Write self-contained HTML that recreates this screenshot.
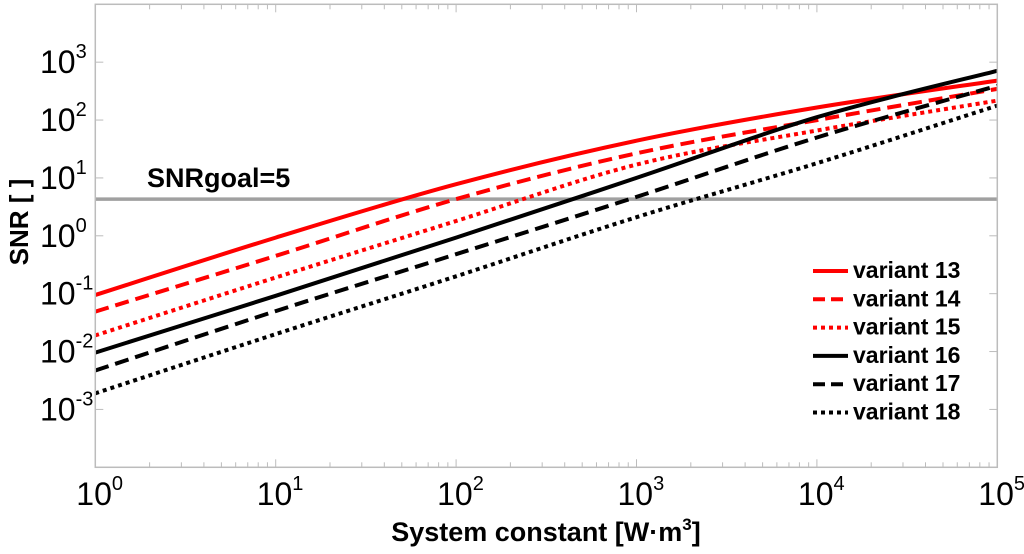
<!DOCTYPE html>
<html><head><meta charset="utf-8"><style>
body{margin:0;background:#fff;}
svg{display:block;font-family:"Liberation Sans",Arial,sans-serif;}
</style></head><body>
<svg id="chart" width="1024" height="554" viewBox="0 0 1024 554" xmlns="http://www.w3.org/2000/svg">
<rect width="1024" height="554" fill="#fff"/>
<g id="ticks"></g>
<g id="series"></g>
<g id="labels"></g>
<rect x="95.3" y="4.3" width="902" height="463" fill="none" stroke="#bcbcbc" stroke-width="1.5"/>
<text x="147" y="187" font-size="27" font-weight="bold">SNRgoal=5</text>
<text x="546" y="541" font-size="27" font-weight="bold" text-anchor="middle">System constant [W·m<tspan dy="-11" font-size="17">3</tspan><tspan dy="11">]</tspan></text>
<text transform="translate(28,222) rotate(-90)" font-size="26" font-weight="bold" text-anchor="middle">SNR [ ]</text>
<g id="legend"></g>
</svg>
<script>
const xDecades = [0, 1, 2, 3, 4, 5];
const yDecades = [-3, -2, -1, 0, 1, 2, 3];
const goalValue = 4.3;
const seriesNames = ["variant 13","variant 14","variant 15","variant 16","variant 17","variant 18"];
const v13 = [0.095, 0.93, 7.8, 44, 165, 480];
const v14 = [0.049, 0.45, 4.3, 26.6, 100, 345];
const v15 = [0.019, 0.19, 1.8, 17, 66, 217];
const v16 = [0.0096, 0.092, 0.93, 10, 112, 710];
const v17 = [0.0047, 0.05, 0.48, 4.7, 50, 390];
const v18 = [0.0019, 0.02, 0.2, 2.1, 18, 178];
const seriesValues = [v13, v14, v15, v16, v17, v18];

const NS = "http://www.w3.org/2000/svg";
const L = 95.3, R = 997.3, T = 4.3, B = 467.3;
function xs(v){ return L + Math.log10(v) / 5 * (R - L); }
function ys(v){ return B - (Math.log10(v) + 4) / 8 * (B - T); }
function mk(tag, attrs, parent){ const e = document.createElementNS(NS, tag); for (const k in attrs) e.setAttribute(k, attrs[k]); parent.appendChild(e); return e; }

const tg = document.getElementById('ticks');
for (let d = 0; d < 5; d++) for (let m = 1; m <= 10; m++) {
  const v = m * Math.pow(10, d); if (m === 10 && d < 4) continue;
  const x = xs(v); const len = (m === 1 || m === 10) ? 8 : 5;
  const t1 = mk('line', {x1:x, x2:x, y1:B, y2:B-len, stroke:'#bcbcbc', 'stroke-width':1}, tg);
  
  
  const t2 = mk('line', {x1:x, x2:x, y1:T, y2:T+len, stroke:'#bcbcbc', 'stroke-width':1}, tg);
  
  
}
for (let d = -4; d <= 4; d++) {
  const y = ys(Math.pow(10, d));
  const t1 = mk('line', {x1:L, x2:L+8, y1:y, y2:y, stroke:'#bcbcbc', 'stroke-width':1}, tg);
  
  
  const t2 = mk('line', {x1:R, x2:R-8, y1:y, y2:y, stroke:'#bcbcbc', 'stroke-width':1}, tg);
  
  
}
const lg = document.getElementById('labels');
xDecades.forEach(d => {
  const t = mk('text', {x: xs(Math.pow(10, d)) - 19, y: 505, 'font-size': 32}, lg);
  
  
  t.innerHTML = '10<tspan dy="-15" font-size="20">' + d + '</tspan>';
});
yDecades.forEach(d => {
  const t = mk('text', {x: 40, y: ys(Math.pow(10, d)) + 11, 'font-size': 32}, lg);
  
  
  t.innerHTML = '10<tspan dy="-15" font-size="20">' + d + '</tspan>';
});

const sg = document.getElementById('series');
const gl = mk('line', {x1:L, x2:R, y1:ys(goalValue), y2:ys(goalValue), stroke:'#a0a0a0', 'stroke-width':3.5}, sg);



const colors = ['#ff0000','#ff0000','#ff0000','#000','#000','#000'];
const dashes = ['none','14 7','4 4','none','14 7','4 4'];
function smoothPath(pts){
  let d = 'M' + pts[0][0].toFixed(1) + ',' + pts[0][1].toFixed(1);
  for (let i = 0; i < pts.length - 1; i++) {
    const p0 = pts[Math.max(0, i-1)], p1 = pts[i], p2 = pts[i+1], p3 = pts[Math.min(pts.length-1, i+2)];
    const c1x = p1[0] + (p2[0]-p0[0])/6, c1y = p1[1] + (p2[1]-p0[1])/6;
    const c2x = p2[0] - (p3[0]-p1[0])/6, c2y = p2[1] - (p3[1]-p1[1])/6;
    d += ' C' + c1x.toFixed(1)+','+c1y.toFixed(1)+' '+c2x.toFixed(1)+','+c2y.toFixed(1)+' '+p2[0].toFixed(1)+','+p2[1].toFixed(1);
  }
  return d;
}
seriesValues.forEach((vals, i) => {
  const pts = vals.map((v, j) => [xs(Math.pow(10, xDecades[j])), ys(v)]);
  const p = mk('path', {d: smoothPath(pts), fill:'none', stroke:colors[i], 'stroke-width':4, 'stroke-dasharray':dashes[i]}, sg);
  
  
});

const leg = document.getElementById('legend');
seriesNames.forEach((n, i) => {
  const y = 271 + i * 28.3;
  const l = mk('line', {x1:813, x2:848, y1:y, y2:y, stroke:colors[i], 'stroke-width':4, 'stroke-dasharray':dashes[i] === '14 7' ? '12 6' : dashes[i]}, leg);
  
  
  const t = mk('text', {x:853, y:y + 7, 'font-size':23, 'font-weight':'bold'}, leg);
  
  
  t.textContent = n;
});
</script>
</body></html>
